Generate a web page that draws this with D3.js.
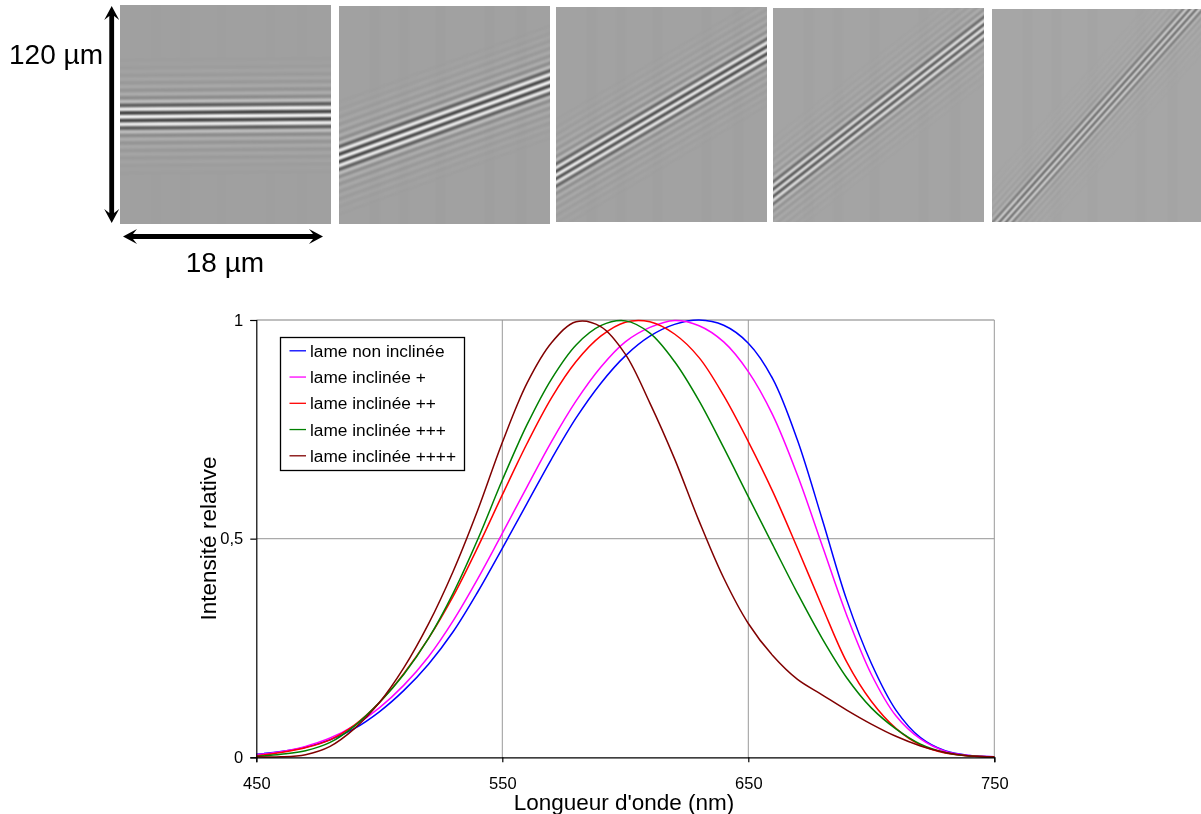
<!DOCTYPE html>
<html><head><meta charset="utf-8">
<script src="https://cdnjs.cloudflare.com/ajax/libs/d3/7.8.5/d3.min.js"></script>
<style>html,body{margin:0;padding:0;background:#fff}svg{display:block}text{font-family:"Liberation Sans",Arial,sans-serif;fill:#000}</style>
</head><body><svg id="c" width="1201" height="814"></svg>
<script>
// ---------- data ----------
const wavelengths = d3.range(450, 751, 10);
const seriesNames = ["lame non inclinée","lame inclinée +","lame inclinée ++","lame inclinée +++","lame inclinée ++++"];
const nonInclinee = [.007,.013,.023,.04,.066,.104,.153,.213,.287,.378,.478,.58,.682,.776,.855,.918,.963,.99,1,.988,.947,.865,.725,.545,.36,.215,.108,.045,.015,.004,.001];
const inclinee1   = [.006,.013,.025,.044,.073,.113,.165,.23,.312,.408,.512,.618,.722,.815,.892,.95,.983,.999,.987,.95,.882,.782,.645,.485,.325,.19,.095,.042,.014,.004,.001];
const inclinee2   = [.003,.011,.022,.04,.074,.125,.192,.272,.368,.48,.6,.717,.822,.905,.963,.995,.996,.968,.914,.827,.722,.607,.478,.345,.218,.128,.066,.028,.01,.003,.001];
const inclinee3   = [.002,.007,.015,.034,.072,.125,.19,.272,.375,.498,.634,.76,.865,.943,.987,.998,.97,.905,.815,.708,.596,.485,.375,.272,.182,.113,.065,.03,.011,.003,.001];
const inclinee4   = [.001,.001,.006,.025,.066,.125,.205,.305,.425,.565,.72,.855,.948,.996,.985,.922,.81,.683,.54,.41,.306,.232,.178,.143,.108,.076,.048,.026,.011,.003,.001];
const seriesValues = [nonInclinee, inclinee1, inclinee2, inclinee3, inclinee4];
const xTickValues = [450,550,650,750];
const yTickValues = [0,0.5,1];
const yTickLabels = ["0","0,5","1"];
// fringe band centre height (µm from panel bottom) at the left and right panel edges
const bandLeft  = [58.8, 36.3, 26.2, 16.3, -6.8];
const bandRight = [59.7, 78.2, 96, 108.8, 125];
const bandContrast = [1, 1, 1, .95, .85];
const panelGrey = [160, 161, 162, 164, 166];
// fringe amplitude by order away from the centre
const fringeAmp = [1,.95,.9,.68,.34,.2,.14,.11,.09,.07,.06,.05,.04,.03,.02,.015];
// faint vertical streaks: position (µm across), strength
const streakPos = [1.2,2.6,3.9,5.1,6.7,8.2,9.6,11,12.4,13.7,15.1,16.6];
const streakAmp = [.03,-.03,.02,-.02,.03,-.03,.02,.03,-.02,.03,-.03,.02];

// ---------- layout ----------
const colors = ["#0000ff","#ff00ff","#ff0000","#008000","#800000"];
const panels = [[120,331,5,224],[339,550,6,224],[556,767,7,222],[773,984,8,222],[992,1201,9,222]];
const plot = {l:256.3,r:994.3,t:320,b:757.3};
const svg = d3.select("#c");
const defs = svg.append("defs");
defs.append("filter").attr("id","soft").attr("filterUnits","userSpaceOnUse").attr("x",0).attr("y",0).attr("width",1201).attr("height",240)
  .attr("color-interpolation-filters","sRGB")
  .append("feGaussianBlur").attr("stdDeviation",0.8);

// ---------- fringe panels ----------
const halfPeriodMicrons = 2.05;
panels.forEach((p,i)=>{
  const [x0,x1,y0,y1]=p;
  const ux=d3.scaleLinear([0,18],[x0,x1]);
  const uy=d3.scaleLinear([0,120],[y1,y0]);
  const id="clip"+i;
  defs.append("clipPath").attr("id",id).append("rect").attr("x",x0).attr("y",y0).attr("width",x1-x0).attr("height",y1-y0);
  const g=svg.append("g").attr("clip-path",`url(#${id})`);
  const base=panelGrey[i];
  g.append("rect").attr("x",x0).attr("y",y0).attr("width",x1-x0).attr("height",y1-y0).attr("fill",`rgb(${base},${base},${base})`);
  const inner=g.append("g").attr("filter","url(#soft)");
  streakPos.forEach((s,j)=>{
    inner.append("rect").attr("x",ux(s)).attr("y",y0-5).attr("width",ux(.9)-ux(0)).attr("height",y1-y0+10)
      .attr("fill",streakAmp[j]>0?"#fff":"#000").attr("opacity",Math.abs(streakAmp[j])*(i===0?.12:.3));
  });
  const orders=d3.range(-fringeAmp.length+1,fringeAmp.length);
  const dy=uy(bandRight[i])-uy(bandLeft[i]);
  const cosT=(x1-x0)/Math.hypot(x1-x0,dy);
  const w=(uy(0)-uy(halfPeriodMicrons))*cosT;
  inner.selectAll("line.f").data(orders).join("line").attr("class","f")
    .attr("x1",ux(-2)).attr("x2",ux(20))
    .attr("y1",k=>uy(bandLeft[i]+(bandLeft[i]-bandRight[i])/9+k*halfPeriodMicrons))
    .attr("y2",k=>uy(bandRight[i]+(bandRight[i]-bandLeft[i])/9+k*halfPeriodMicrons))
    .attr("stroke",k=>k%2===0?"#fff":"#000")
    .attr("stroke-width",w)
    .attr("opacity",k=>{const a=fringeAmp[Math.abs(k)]*bandContrast[i];return k%2===0?a:a*.68;});
});

// ---------- dimension arrows ----------
function arrow(x1,y1,x2,y2){
  const a=Math.atan2(y2-y1,x2-x1),L=Math.hypot(x2-x1,y2-y1);
  const g=svg.append("g").attr("transform",`translate(${x1},${y1}) rotate(${a*180/Math.PI})`);
  const d=d3.path();
  d.moveTo(0,0);d.lineTo(14,-7.5);d.lineTo(10,-2.4);d.lineTo(L-10,-2.4);d.lineTo(L-14,-7.5);d.lineTo(L,0);
  d.lineTo(L-14,7.5);d.lineTo(L-10,2.4);d.lineTo(10,2.4);d.lineTo(14,7.5);d.closePath();
  g.append("path").attr("d",d.toString()).attr("fill","#000");
}
arrow(111.7,6,111.7,223);
arrow(123,236.5,323,236.5);
svg.append("text").attr("x",9).attr("y",64).attr("font-size",28).text("120 µm");
svg.append("text").attr("x",225).attr("y",272).attr("text-anchor","middle").attr("font-size",28).text("18 µm");

// ---------- chart ----------
const x=d3.scaleLinear([450,750],[plot.l,plot.r]);
const y=d3.scaleLinear([0,1],[plot.b,plot.t]);
const grid=svg.append("g");
grid.selectAll("line.h").data(yTickValues.slice(1)).join("line").attr("class","h")
  .attr("x1",plot.l).attr("x2",plot.r).attr("y1",d=>y(d)).attr("y2",d=>y(d))
  .attr("stroke","#aaa").attr("stroke-width",1.3);
grid.selectAll("line.v").data(xTickValues.slice(1)).join("line").attr("class","v")
  .attr("x1",d=>x(d)).attr("x2",d=>x(d)).attr("y1",plot.t).attr("y2",plot.b)
  .attr("stroke","#999").attr("stroke-width",1);

const line=d3.line().x((d,i)=>x(wavelengths[i])).y(d=>y(d)).curve(d3.curveCatmullRom.alpha(0.5));
svg.append("g").selectAll("path").data(seriesValues).join("path")
  .attr("d",line).attr("fill","none").attr("stroke",(d,i)=>colors[i]).attr("stroke-width",1.5);

const ax=svg.append("g").attr("transform",`translate(0,${plot.b})`)
  .call(d3.axisBottom(x).tickValues(xTickValues).tickFormat(d3.format("d")).tickSizeOuter(0).tickSize(5).tickPadding(15));
const ay=svg.append("g").attr("transform",`translate(${plot.l},0)`)
  .call(d3.axisLeft(y).tickValues(yTickValues).tickFormat((d,i)=>yTickLabels[i]).tickSizeOuter(0).tickSize(6).tickPadding(7));
[ax,ay].forEach(a=>{
  a.selectAll("text").attr("font-size",16.5).attr("font-family","Liberation Sans");
  a.selectAll("line,path").attr("stroke","#000").attr("stroke-width",1.2);
});
svg.append("text").attr("x",624).attr("y",810).attr("text-anchor","middle").attr("font-size",22.5).text("Longueur d'onde (nm)");
svg.append("text").attr("transform","translate(216,538.5) rotate(-90)").attr("text-anchor","middle").attr("font-size",22.5).text("Intensité relative");

// ---------- legend ----------
const lg=svg.append("g");
lg.append("rect").attr("x",280.5).attr("y",337.5).attr("width",184).attr("height",133)
  .attr("fill","#fff").attr("stroke","#000").attr("stroke-width",1.3);
const rowY=d3.scaleLinear([0,4],[350.8,455.8]);
const rows=lg.selectAll("g").data(seriesNames).join("g").attr("transform",(d,i)=>`translate(0,${rowY(i)})`);
rows.append("line").attr("x1",289.5).attr("x2",306).attr("stroke",(d,i)=>colors[i]).attr("stroke-width",1.3);
rows.append("text").attr("x",310).attr("y",6).attr("font-size",17.3).text(d=>d);
</script></body></html>
